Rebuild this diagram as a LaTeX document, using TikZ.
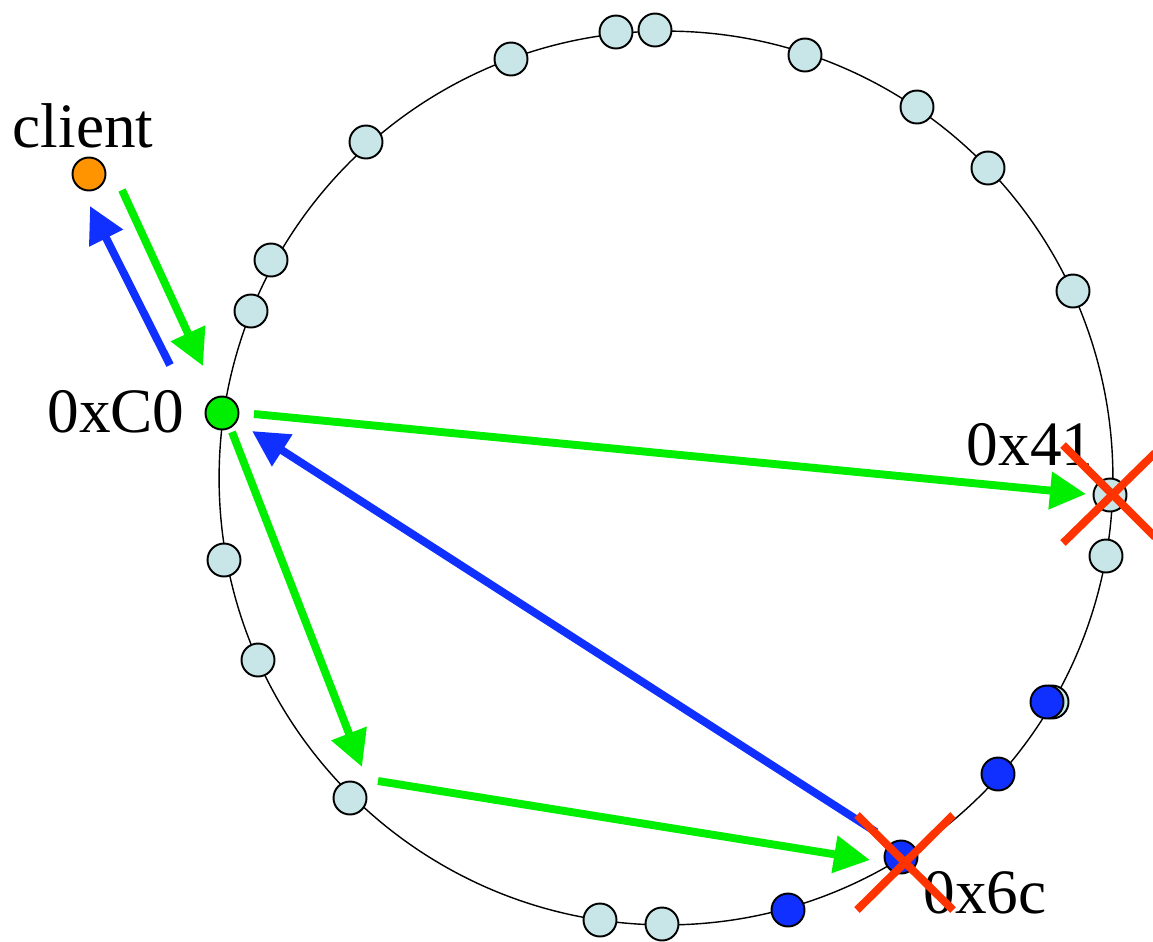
\documentclass[tikz,border=0pt]{standalone}
\usepackage{fontspec}
\setmainfont{Liberation Serif}
\usetikzlibrary{arrows.meta}
\definecolor{peerC}{HTML}{C8E6E8}
\definecolor{hopB}{HTML}{1030FF}
\definecolor{hopG}{HTML}{00EE00}
\definecolor{cliO}{HTML}{FF9400}
\definecolor{failR}{HTML}{FF3300}
\tikzset{
  ring/.style    ={draw=black, line width=0.8pt},
  peer/.style    ={circle, draw=black, line width=1.1pt, fill=peerC,
                   minimum size=0.66cm, inner sep=0pt},
  replica/.style ={peer, fill=hopB},
  entry/.style   ={peer, fill=hopG},
  client/.style  ={peer, fill=cliO},
  lbl/.style     ={font=\fontsize{36}{40}\selectfont, inner sep=0pt, anchor=base},
  greenhop/.style={-{Triangle[length=0.72cm, width=0.72cm]}, hopG, line width=4.5pt},
  bluehop/.style ={-{Triangle[length=0.72cm, width=0.72cm]}, hopB, line width=4.5pt},
  fail/.style    ={failR, line width=4.5pt},
}
\begin{document}
\begin{tikzpicture}[x=0.02cm, y=-0.02cm]
\clip (0,0) rectangle (1153,941);

% --- ring ---
\draw[ring] (666,478) circle[radius=8.94cm];

% --- peers on the ring ---
\foreach \px/\py [count=\i] in {511/59, 616/32, 655/30, 805/55, 917/107,
    988/168, 1073/291, 366/142, 271/260, 251/311, 1106/556, 1052/702,
    224/560, 258/660, 350/798, 600/920, 662/924}
  \node[peer] (p\i) at (\px,\py) {};
\node[peer] (n41) at (1110,495) {};

% --- replicas ---
\node[replica] (r1) at (1047,702) {};
\node[replica] (r2) at (998,774) {};
\node[replica] (r3) at (788,910) {};
\node[replica] (n6c) at (901,857) {};

% --- entry point and client ---
\node[entry] (c0) at (222,413) {};
\node[client] (cli) at (89,174) {};

% --- labels ---
\node[lbl] (lcli) at (83,147) {client};
\node[lbl] (lc0) at (116,432) {0xC0};
\node[lbl] (l41) at (1030,465) {0x41};
\node[lbl] (l6c) at (985,913) {0x6c};

% --- lookup path ---
\draw[greenhop] ([shift={(33,16)}]cli.center) -- ([shift={(-19,-47)}]c0.center);
\draw[bluehop] ([shift={(-52,-48)}]c0.center) -- ([shift={(1,32)}]cli.center);
\draw[greenhop] ([shift={(32,1)}]c0.center) -- ([shift={(-24,-1)}]n41.center);
\draw[greenhop] ([shift={(10,19)}]c0.center) -- ([shift={(12,-31)}]p15.center);
\draw[greenhop] ([shift={(28,-17)}]p15.center) -- ([shift={(-31,3)}]n6c.center);
\draw[bluehop] ([shift={(-25,-25)}]n6c.center) -- ([shift={(30,18)}]c0.center);

% --- failed nodes ---
\draw[fail] ([shift={(-47,-50)}]n41.center) -- ([shift={(45,42)}]n41.center);
\draw[fail] ([shift={(-47,48)}]n41.center) -- ([shift={(45,-42)}]n41.center);
\draw[fail] ([shift={(-44,-42)}]n6c.center) -- ([shift={(52,53)}]n6c.center);
\draw[fail] ([shift={(-44,53)}]n6c.center) -- ([shift={(52,-42)}]n6c.center);
\end{tikzpicture}
\end{document}
